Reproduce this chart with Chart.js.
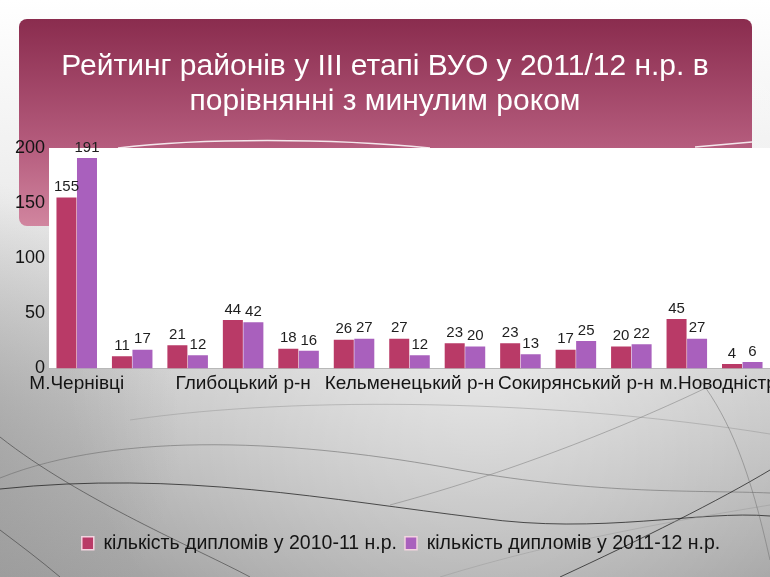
<!DOCTYPE html>
<html>
<head>
<meta charset="utf-8">
<script src="https://cdn.jsdelivr.net/npm/chart.js@4.4.1/dist/chart.umd.min.js"></script>
<style>
  html, body { margin: 0; padding: 0; background: #fff; }
  #wrap { position: relative; width: 770px; height: 577px; }
</style>
</head>
<body>
<div id="wrap"><canvas id="ratingChart" width="770" height="577"></canvas></div>
<script>
// Data
const categories = ['М.Чернівці', 'Вижницький р-н', 'Герцаївський р-н', 'Глибоцький р-н',
    'Заставнівський р-н', 'Кіцманський р-н', 'Кельменецький р-н', 'Новоселицький р-н',
    'Путильський р-н', 'Сокирянський р-н', 'Сторожинецький р-н', 'Хотинський р-н', 'м.Новодністровськ'];
const diplomas2010 = [155, 11, 21, 44, 18, 26, 27, 23, 23, 17, 20, 45, 4];
const diplomas2011 = [191, 17, 12, 42, 16, 27, 12, 20, 13, 25, 22, 27, 6];
const seriesNames = ['кількість дипломів у 2010-11 н.р.', 'кількість дипломів у 2011-12 н.р.'];
const titleLines = ['Рейтинг районів у ІІІ етапі ВУО у 2011/12 н.р. в', 'порівнянні з минулим роком'];

const RED = '#b93a67';
const PURPLE = '#a960bd';
const FONT = '"Liberation Sans", Arial, sans-serif';

// Slide background, title banner and white plot area
const slideBackground = {
    id: 'slideBackground',
    beforeDraw(chart) {
        const { ctx, width, height, chartArea } = chart;
        ctx.save();

        let g = ctx.createLinearGradient(0, 0, 0, height);
        g.addColorStop(0, '#ffffff');
        g.addColorStop(0.35, '#ececec');
        g.addColorStop(0.7, '#c4c4c4');
        g.addColorStop(1, '#a4a4a4');
        ctx.fillStyle = g;
        ctx.fillRect(0, 0, width, height);

        let r = ctx.createRadialGradient(480, 330, 20, 480, 330, 420);
        r.addColorStop(0, 'rgba(255,255,255,0.55)');
        r.addColorStop(1, 'rgba(255,255,255,0)');
        ctx.fillStyle = r;
        ctx.fillRect(0, 0, width, height);

        // darker left edge, fading smoothly
        r = ctx.createRadialGradient(-80, 430, 10, -80, 430, 260);
        r.addColorStop(0, 'rgba(110,110,110,0.35)');
        r.addColorStop(1, 'rgba(110,110,110,0)');
        ctx.fillStyle = r;
        ctx.fillRect(0, 0, width, height);

        // decorative curves
        ctx.lineWidth = 1;
        function curve(color, pts) {
            ctx.strokeStyle = color;
            ctx.beginPath();
            ctx.moveTo(pts[0], pts[1]);
            ctx.bezierCurveTo(pts[2], pts[3], pts[4], pts[5], pts[6], pts[7]);
            ctx.stroke();
        }
        curve('rgba(30,30,30,0.75)', [0, 489, 180, 470, 330, 500, 480, 518]);
        curve('rgba(30,30,30,0.75)', [480, 518, 600, 535, 700, 510, 770, 516]);
        curve('rgba(110,110,110,0.6)', [0, 478, 120, 430, 300, 440, 460, 470]);
        curve('rgba(110,110,110,0.6)', [460, 470, 600, 495, 700, 490, 770, 493]);
        curve('rgba(150,150,150,0.5)', [130, 420, 300, 395, 560, 400, 770, 434]);
        curve('rgba(60,60,60,0.6)', [0, 437, 80, 500, 200, 550, 250, 577]);
        curve('rgba(60,60,60,0.6)', [0, 530, 20, 545, 40, 560, 60, 577]);
        curve('rgba(20,20,20,0.7)', [560, 577, 640, 540, 720, 500, 770, 470]);
        curve('rgba(120,120,120,0.5)', [390, 505, 520, 470, 640, 420, 712, 385]);
        curve('rgba(150,150,150,0.45)', [440, 577, 560, 540, 680, 520, 770, 505]);
        curve('rgba(110,110,110,0.5)', [700, 380, 730, 420, 750, 470, 770, 560]);

        // banner
        const bx = 19, by = 19, bw = 733, bh = 207, rad = 8;
        g = ctx.createLinearGradient(0, by, 0, by + bh);
        g.addColorStop(0, '#8a2c4e');
        g.addColorStop(0.6, '#b45b7c');
        g.addColorStop(1, '#d1859f');
        ctx.fillStyle = g;
        ctx.beginPath();
        ctx.roundRect(bx, by, bw, bh, rad);
        ctx.fill();

        // white plot area
        ctx.fillStyle = '#ffffff';
        ctx.fillRect(chartArea.left, chartArea.top, chartArea.right - chartArea.left,
            chartArea.bottom - chartArea.top);

        // light wave at the banner's lower edge
        ctx.strokeStyle = 'rgba(255,255,255,0.85)';
        ctx.lineWidth = 1.5;
        ctx.beginPath();
        ctx.moveTo(118, 148);
        ctx.bezierCurveTo(200, 138, 330, 138, 430, 148);
        ctx.stroke();
        ctx.beginPath();
        ctx.moveTo(695, 147);
        ctx.lineTo(752, 142);
        ctx.stroke();
        ctx.restore();
    }
};

// Values above the bars
const barValues = {
    id: 'barValues',
    afterDatasetsDraw(chart) {
        const { ctx } = chart;
        ctx.save();
        ctx.font = '15px ' + FONT;
        ctx.fillStyle = '#1e1e1e';
        ctx.textAlign = 'center';
        ctx.textBaseline = 'bottom';
        chart.data.datasets.forEach((ds, di) => {
            chart.getDatasetMeta(di).data.forEach((bar, i) => {
                ctx.fillText(ds.data[i], bar.x, bar.y - 3);
            });
        });
        ctx.restore();
    }
};

// Legend sits a little right of centre on the slide
const legendShift = {
    id: 'legendShift',
    afterLayout(chart) {
        if (chart.legend) {
            chart.legend.left += 16;
            chart.legend.right += 16;
        }
    }
};

new Chart(document.getElementById('ratingChart'), {
    type: 'bar',
    data: {
        labels: categories,
        datasets: [
            { label: seriesNames[0], data: diplomas2010, backgroundColor: RED, borderWidth: 0 },
            { label: seriesNames[1], data: diplomas2011, backgroundColor: PURPLE, borderWidth: 0 }
        ]
    },
    options: {
        responsive: false,
        animation: false,
        categoryPercentage: 0.74,
        barPercentage: 0.975,
        layout: { padding: { top: 0, left: 0, right: 0, bottom: 14 } },
        plugins: {
            title: {
                display: true,
                text: titleLines,
                color: '#ffffff',
                font: { family: FONT, size: 30, weight: 'normal', lineHeight: 35 / 30 },
                padding: { top: 49, bottom: 29 }
            },
            legend: {
                position: 'bottom',
                labels: {
                    color: '#141414',
                    font: { family: FONT, size: 19.5 },
                    boxWidth: 12,
                    boxHeight: 13,
                    padding: 8,
                    generateLabels(chart) {
                        return chart.data.datasets.map((ds, i) => ({
                            text: ds.label,
                            fillStyle: ds.backgroundColor,
                            strokeStyle: '#f3d3e0',
                            lineWidth: 1.5,
                            fontColor: '#141414',
                            datasetIndex: i
                        }));
                    }
                }
            },
            tooltip: { enabled: false }
        },
        scales: {
            x: {
                grid: { display: false, drawTicks: false },
                border: { display: true, color: '#b8b8b8' },
                ticks: {
                    autoSkip: false,
                    maxRotation: 0,
                    minRotation: 0,
                    padding: 4,
                    color: '#141414',
                    font: { family: FONT, size: 19 },
                    callback: (v, i) => (i % 3 === 0 ? categories[i] : '')
                },
                afterFit(scale) {
                    scale.paddingLeft = 0;
                    scale.paddingRight = 0;
                    scale.height = 157;
                }
            },
            y: {
                min: 0,
                max: 200,
                grid: { display: false, drawTicks: false },
                border: { display: false },
                ticks: {
                    stepSize: 50,
                    padding: 4,
                    color: '#141414',
                    font: { family: FONT, size: 18 }
                },
                afterFit(scale) {
                    scale.width = 49;
                }
            }
        }
    },
    plugins: [slideBackground, barValues, legendShift]
});
</script>
</body>
</html>
